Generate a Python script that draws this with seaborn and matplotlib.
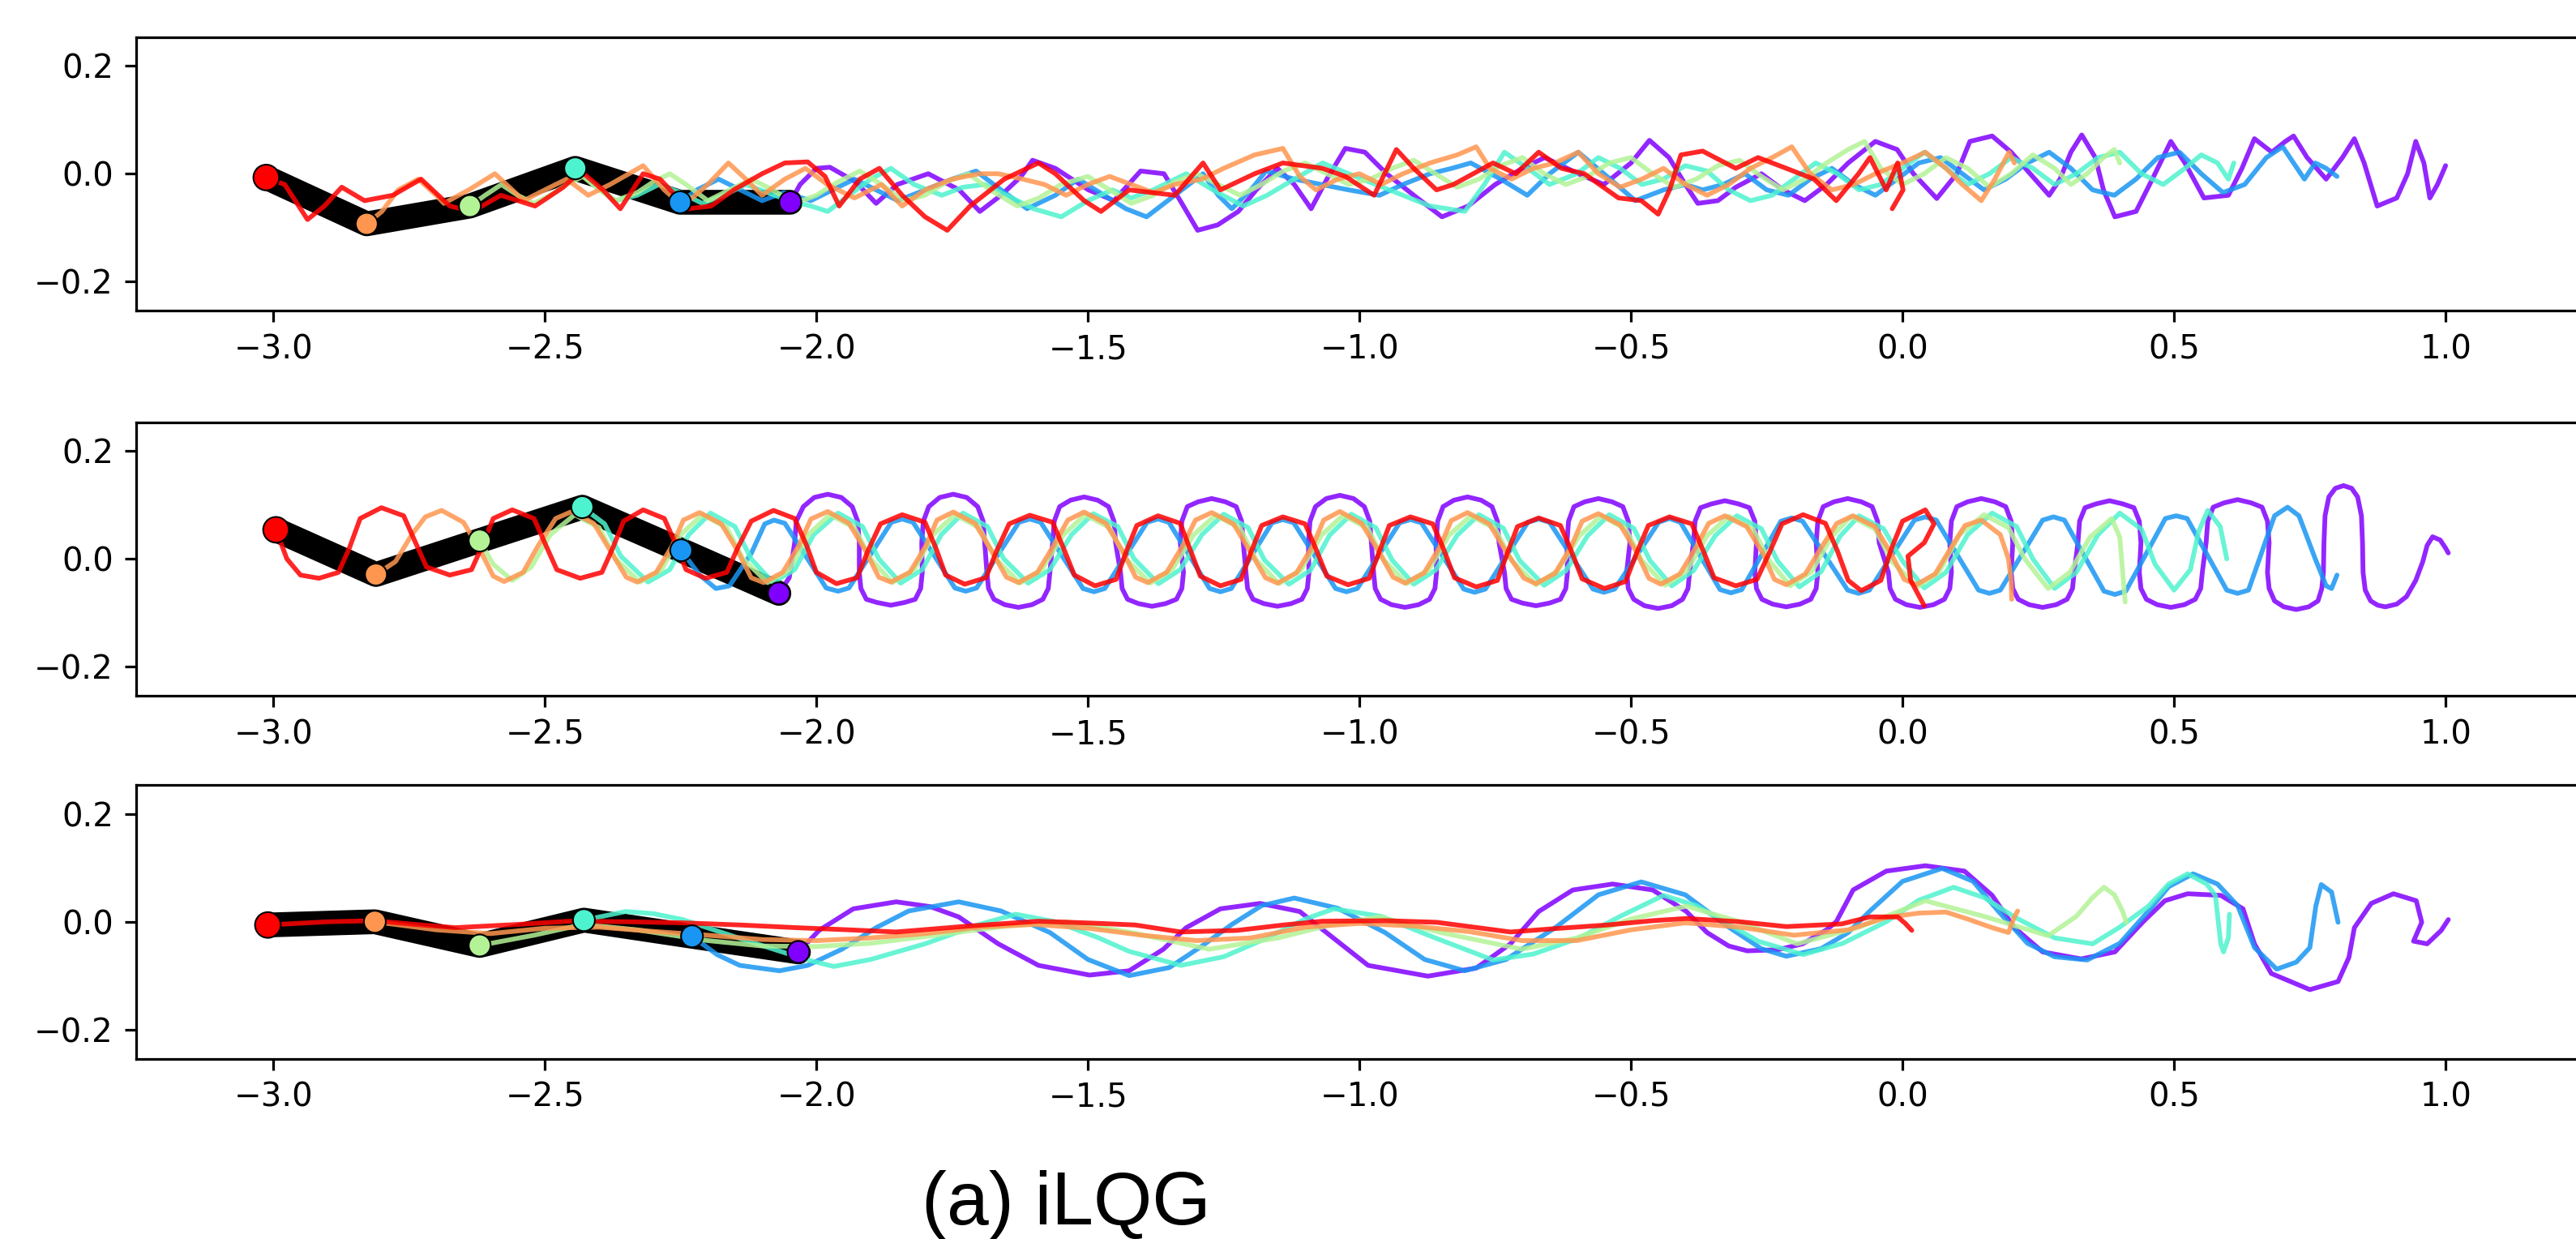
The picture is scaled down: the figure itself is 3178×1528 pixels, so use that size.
import numpy as np
import pandas as pd
import matplotlib
matplotlib.use("Agg")
import matplotlib.pyplot as plt
import seaborn as sns

# ---------------- data ----------------
joint_names = ["j0", "j1", "j2", "j3", "j4", "j5"]   # purple ... red
x_ticks = [-3.0, -2.5, -2.0, -1.5, -1.0, -0.5, 0.0, 0.5, 1.0]
y_ticks = [-0.2, 0.0, 0.2]
caption = "(a) iLQG"

# initial body (joint positions, red head first -> purple tail)
p1_body = [(-3.013, -0.007), (-2.828, -0.093), (-2.638, -0.060), (-2.444, 0.010), (-2.251, -0.053), (-2.048, -0.053)]
p2_body = [(-2.995, 0.054), (-2.811, -0.029), (-2.620, 0.034), (-2.431, 0.096), (-2.249, 0.016), (-2.069, -0.064)]
p3_body = [(-3.010, -0.006), (-2.813, 0.000), (-2.620, -0.044), (-2.428, 0.003), (-2.229, -0.027), (-2.033, -0.056)]

# ---- panel 1 trajectories ----
p1_j5 = [(-3.012,-0.008),(-2.979,-0.020),(-2.937,-0.085),(-2.906,-0.060),(-2.874,-0.025),(-2.832,-0.050),(-2.780,-0.040),
         (-2.728,-0.010),(-2.675,-0.060),(-2.633,-0.070),(-2.581,-0.040),(-2.518,-0.060),(-2.466,-0.025),(-2.434,0.005),
         (-2.393,-0.030),(-2.361,-0.065),(-2.319,0.000),(-2.288,-0.010),(-2.236,-0.065),(-2.194,-0.060),(-2.152,-0.030),
         (-2.100,0.000),(-2.058,0.020),(-2.016,0.022),(-1.984,-0.005),(-1.958,-0.060),(-1.920,-0.010),(-1.884,0.010),
         (-1.842,-0.040),(-1.800,-0.080),(-1.759,-0.105),(-1.717,-0.060),(-1.654,-0.010),(-1.591,0.020),(-1.560,0.000),
         (-1.507,-0.050),(-1.476,-0.070),(-1.424,-0.030),(-1.382,-0.035),(-1.340,-0.040),(-1.288,0.020),(-1.256,-0.030),
         (-1.193,0.000),(-1.141,0.020),(-1.068,0.010),(-1.026,-0.005),(-0.973,-0.040),(-0.932,0.045),(-0.900,0.010),
         (-0.858,-0.030),(-0.827,-0.020),(-0.754,0.020),(-0.712,0.000),(-0.670,0.040),(-0.628,0.010),(-0.586,0.000),
         (-0.523,-0.045),(-0.481,-0.050),(-0.450,-0.075),(-0.429,-0.030),(-0.408,0.035),(-0.368,0.042),(-0.307,0.010),
         (-0.266,0.030),(-0.214,0.010),(-0.163,-0.010),(-0.122,-0.050),(-0.081,0.000),(-0.060,0.030),(-0.030,-0.030),
         (-0.009,0.020),(0.001,-0.030),(-0.019,-0.065)]
p1_j4 = [(-2.828,-0.093),(-2.800,-0.070),(-2.770,-0.030),(-2.733,-0.010),(-2.700,-0.040),(-2.686,-0.055),(-2.640,-0.030),
         (-2.592,0.000),(-2.560,-0.030),(-2.539,-0.050),(-2.500,-0.030),(-2.460,-0.010),(-2.420,-0.040),(-2.380,-0.020),
         (-2.345,0.000),(-2.319,0.015),(-2.280,-0.030),(-2.246,-0.060),(-2.200,-0.020),(-2.162,0.020),(-2.130,-0.010),
         (-2.100,-0.040),(-2.058,-0.010),(-2.020,0.010),(-1.980,-0.020),(-1.930,-0.045),(-1.880,-0.020),(-1.842,-0.060),
         (-1.800,-0.030),(-1.750,-0.010),(-1.700,0.000),(-1.665,0.000),(-1.620,-0.010),(-1.580,-0.020),(-1.540,-0.040),
         (-1.500,-0.020),(-1.460,-0.005),(-1.420,-0.020),(-1.380,-0.035),(-1.340,-0.020),(-1.290,-0.010),(-1.250,0.010),
         (-1.193,0.035),(-1.141,0.047),(-1.110,-0.005),(-1.080,-0.030),(-1.040,-0.010),(-1.000,0.000),(-0.960,-0.020),
         (-0.920,0.000),(-0.870,0.020),(-0.820,0.035),(-0.785,0.050),(-0.760,0.010),(-0.720,-0.010),(-0.680,0.010),
         (-0.640,0.020),(-0.597,0.040),(-0.560,0.000),(-0.520,-0.025),(-0.480,-0.010),(-0.440,0.010),(-0.400,-0.020),
         (-0.360,-0.040),(-0.320,-0.020),(-0.280,0.010),(-0.240,0.030),(-0.204,0.050),(-0.170,0.000),(-0.130,-0.030),
         (-0.090,-0.020),(-0.050,0.000),(0.000,0.020),(0.042,0.040),(0.080,0.010),(0.110,-0.020),(0.145,-0.050),
         (0.170,-0.010),(0.196,0.040),(0.206,0.020)]
p1_j3 = [(-2.638,-0.060),(-2.610,-0.040),(-2.580,-0.020),(-2.550,-0.040),(-2.520,-0.055),(-2.490,-0.040),(-2.460,-0.020),
         (-2.430,-0.005),(-2.400,-0.030),(-2.370,-0.050),(-2.330,-0.035),(-2.300,-0.015),(-2.270,0.000),(-2.240,-0.020),
         (-2.200,-0.050),(-2.160,-0.030),(-2.120,-0.010),(-2.080,-0.030),(-2.040,-0.055),(-2.000,-0.040),(-1.960,-0.015),
         (-1.920,0.005),(-1.880,-0.020),(-1.840,-0.050),(-1.800,-0.040),(-1.760,-0.015),(-1.720,0.000),(-1.680,-0.030),
         (-1.630,-0.060),(-1.590,-0.045),(-1.550,-0.020),(-1.500,-0.005),(-1.460,-0.030),(-1.420,-0.055),(-1.380,-0.040),
         (-1.340,-0.015),(-1.300,0.000),(-1.260,-0.020),(-1.220,-0.040),(-1.180,-0.020),(-1.140,0.005),(-1.100,0.020),
         (-1.060,0.000),(-1.020,-0.020),(-0.980,-0.010),(-0.940,0.010),(-0.900,0.025),(-0.860,0.000),(-0.820,-0.025),
         (-0.780,-0.010),(-0.740,0.015),(-0.700,0.030),(-0.660,0.000),(-0.620,-0.020),(-0.580,-0.005),(-0.540,0.020),
         (-0.500,0.030),(-0.460,0.000),(-0.420,-0.025),(-0.380,-0.010),(-0.340,0.015),(-0.300,0.025),(-0.260,-0.005),
         (-0.220,-0.030),(-0.180,-0.010),(-0.140,0.020),(-0.100,0.045),(-0.070,0.060),(-0.040,0.010),(0.000,-0.020),
         (0.040,0.000),(0.080,0.030),(0.120,0.010),(0.160,-0.025),(0.200,0.000),(0.240,0.035),(0.280,0.010),
         (0.310,-0.020),(0.340,0.000),(0.370,0.030),(0.390,0.045),(0.400,0.020)]
p1_j2 = [(-2.444,0.010),(-2.410,-0.020),(-2.370,-0.050),(-2.330,-0.040),(-2.290,-0.020),(-2.250,-0.035),(-2.210,-0.055),
         (-2.170,-0.040),(-2.130,-0.020),(-2.090,-0.035),(-2.050,-0.050),(-2.010,-0.060),(-1.979,-0.070),(-1.940,-0.040),
         (-1.900,-0.010),(-1.863,0.010),(-1.820,-0.020),(-1.769,-0.040),(-1.730,-0.025),(-1.690,-0.020),(-1.650,-0.040),
         (-1.600,-0.065),(-1.549,-0.080),(-1.500,-0.050),(-1.455,-0.030),(-1.420,-0.045),(-1.380,-0.030),(-1.319,0.000),
         (-1.270,-0.030),(-1.214,-0.060),(-1.170,-0.040),(-1.120,-0.010),(-1.068,0.020),(-1.020,0.000),(-0.970,-0.020),
         (-0.920,-0.040),(-0.870,-0.060),(-0.806,-0.070),(-0.770,-0.020),(-0.733,0.040),(-0.690,0.010),(-0.650,-0.020),
         (-0.600,0.000),(-0.560,0.030),(-0.520,0.010),(-0.480,-0.020),(-0.440,-0.010),(-0.400,0.015),(-0.360,0.005),
         (-0.320,-0.030),(-0.280,-0.050),(-0.240,-0.040),(-0.200,-0.010),(-0.160,0.020),(-0.120,0.000),(-0.080,-0.030),
         (-0.040,-0.020),(0.000,0.010),(0.040,0.040),(0.080,0.010),(0.120,-0.020),(0.160,0.000),(0.200,0.030),
         (0.240,0.010),(0.280,-0.020),(0.320,0.000),(0.360,0.030),(0.400,0.040),(0.440,0.000),(0.480,-0.020),
         (0.520,0.010),(0.550,0.035),(0.580,0.020),(0.600,-0.010),(0.610,0.020)]
p1_j1 = [(-2.251,-0.053),(-2.220,-0.030),(-2.180,-0.010),(-2.140,-0.030),(-2.100,-0.050),(-2.060,-0.035),(-2.010,-0.050),
         (-1.970,-0.030),(-1.930,-0.010),(-1.890,-0.030),(-1.850,-0.050),(-1.800,-0.030),(-1.750,-0.010),(-1.706,0.005),
         (-1.660,-0.030),(-1.612,-0.065),(-1.560,-0.040),(-1.518,-0.010),(-1.470,-0.040),(-1.430,-0.065),(-1.392,-0.080),
         (-1.340,-0.040),(-1.288,0.000),(-1.260,-0.040),(-1.235,-0.065),(-1.200,-0.030),(-1.172,0.005),(-1.120,-0.010),
         (-1.070,-0.020),(-1.020,-0.030),(-0.963,-0.040),(-0.920,-0.020),(-0.870,0.000),(-0.830,0.010),(-0.795,0.020),
         (-0.740,-0.010),(-0.691,-0.040),(-0.650,0.000),(-0.597,0.040),(-0.550,0.000),(-0.492,-0.050),(-0.440,-0.030),
         (-0.400,-0.020),(-0.368,-0.030),(-0.330,-0.020),(-0.290,0.000),(-0.250,-0.030),(-0.210,-0.040),(-0.170,-0.010),
         (-0.130,0.010),(-0.090,-0.020),(-0.050,-0.040),(-0.010,-0.010),(0.030,0.020),(0.070,0.030),(0.110,0.000),
         (0.150,-0.030),(0.190,-0.010),(0.230,0.020),(0.270,0.040),(0.310,0.010),(0.350,-0.030),(0.390,-0.040),
         (0.430,-0.010),(0.470,0.030),(0.510,0.040),(0.550,0.000),(0.590,-0.035),(0.630,-0.020),(0.670,0.030),
         (0.700,0.050),(0.720,0.020),(0.740,-0.010),(0.760,0.020),(0.780,0.010),(0.800,-0.005)]
p1_j0 = [(-2.048,-0.053),(-2.030,-0.020),(-2.000,0.010),(-1.975,0.012),(-1.928,-0.015),(-1.890,-0.055),(-1.851,-0.020),
         (-1.794,0.000),(-1.737,-0.030),(-1.699,-0.070),(-1.660,-0.040),(-1.623,-0.005),(-1.602,0.025),(-1.560,0.010),
         (-1.499,-0.030),(-1.452,-0.050),(-1.403,0.005),(-1.360,0.000),(-1.330,-0.050),(-1.298,-0.105),(-1.261,-0.095),
         (-1.223,-0.070),(-1.190,-0.030),(-1.151,0.010),(-1.120,-0.020),(-1.089,-0.065),(-1.060,-0.010),(-1.026,0.047),
         (-0.990,0.040),(-0.950,0.000),(-0.900,-0.040),(-0.848,-0.080),(-0.800,-0.060),(-0.750,-0.020),(-0.700,0.010),
         (-0.659,0.030),(-0.597,0.000),(-0.550,-0.020),(-0.500,0.020),(-0.466,0.062),(-0.430,0.030),(-0.400,-0.020),
         (-0.377,-0.055),(-0.340,-0.050),(-0.307,-0.025),(-0.260,0.000),(-0.220,-0.030),(-0.180,-0.050),(-0.140,-0.020),
         (-0.100,0.020),(-0.050,0.060),(-0.010,0.045),(0.020,0.000),(0.063,-0.046),(0.100,0.000),(0.124,0.060),
         (0.165,0.070),(0.200,0.040),(0.235,0.000),(0.270,-0.040),(0.290,-0.010),(0.310,0.040),(0.330,0.072),
         (0.355,0.030),(0.370,-0.030),(0.391,-0.080),(0.430,-0.070),(0.460,-0.010),(0.494,0.060),(0.520,0.020),
         (0.555,-0.045),(0.600,-0.040),(0.625,0.010),(0.648,0.065),(0.680,0.040),(0.705,0.060),(0.720,0.070),
         (0.745,0.030),(0.780,-0.010),(0.810,0.030),(0.832,0.065),(0.850,0.020),(0.874,-0.060),(0.910,-0.045),
         (0.930,0.000),(0.945,0.060),(0.960,0.020),(0.971,-0.045),(0.985,-0.020),(1.000,0.015)]

# ---- panel 2 trajectories ----
p2_j0 = [(-2.069,-0.064),(-2.050,-0.035),(-2.040,0.030),
         (-2.037,0.070),(-2.024,0.097),(-2.004,0.114),(-1.979,0.120),(-1.954,0.114),(-1.934,0.097),(-1.924,0.070),(-1.921,0.030),
         (-1.921,-0.025),(-1.918,-0.055),(-1.908,-0.075),(-1.888,-0.081),(-1.863,-0.086),(-1.838,-0.081),(-1.818,-0.075),(-1.808,-0.055),(-1.805,-0.025),
         (-1.806,0.030),(-1.803,0.070),(-1.793,0.097),(-1.773,0.114),(-1.748,0.120),(-1.723,0.114),(-1.703,0.097),(-1.693,0.070),(-1.690,0.030),
         (-1.686,-0.025),(-1.683,-0.055),(-1.673,-0.075),(-1.653,-0.085),(-1.628,-0.090),(-1.603,-0.085),(-1.583,-0.075),(-1.573,-0.055),(-1.570,-0.025),
         (-1.565,0.030),(-1.562,0.070),(-1.552,0.097),(-1.532,0.109),(-1.507,0.115),(-1.482,0.109),(-1.462,0.097),(-1.452,0.070),(-1.449,0.030),
         (-1.440,-0.025),(-1.437,-0.055),(-1.427,-0.075),(-1.407,-0.083),(-1.382,-0.088),(-1.357,-0.083),(-1.337,-0.075),(-1.327,-0.055),(-1.324,-0.025),
         (-1.330,0.030),(-1.327,0.070),(-1.317,0.097),(-1.297,0.106),(-1.272,0.112),(-1.247,0.106),(-1.227,0.097),(-1.217,0.070),(-1.214,0.030),
         (-1.209,-0.025),(-1.206,-0.055),(-1.196,-0.075),(-1.176,-0.083),(-1.151,-0.088),(-1.126,-0.083),(-1.106,-0.075),(-1.096,-0.055),(-1.093,-0.025),
         (-1.094,0.030),(-1.091,0.070),(-1.081,0.097),(-1.061,0.112),(-1.036,0.118),(-1.011,0.112),(-0.991,0.097),(-0.981,0.070),(-0.978,0.030),
         (-0.974,-0.025),(-0.971,-0.055),(-0.961,-0.075),(-0.941,-0.085),(-0.916,-0.090),(-0.891,-0.085),(-0.871,-0.075),(-0.861,-0.055),(-0.858,-0.025),
         (-0.859,0.030),(-0.856,0.070),(-0.846,0.097),(-0.826,0.109),(-0.801,0.115),(-0.776,0.109),(-0.756,0.097),(-0.746,0.070),(-0.743,0.030),
         (-0.733,-0.025),(-0.730,-0.055),(-0.720,-0.075),(-0.700,-0.082),(-0.675,-0.087),(-0.650,-0.082),(-0.630,-0.075),(-0.620,-0.055),(-0.617,-0.025),
         (-0.618,0.030),(-0.615,0.070),(-0.605,0.097),(-0.585,0.106),(-0.560,0.112),(-0.535,0.106),(-0.515,0.097),(-0.505,0.070),(-0.502,0.030),
         (-0.508,-0.025),(-0.505,-0.055),(-0.495,-0.075),(-0.475,-0.087),(-0.450,-0.092),(-0.425,-0.087),(-0.405,-0.075),(-0.395,-0.055),(-0.392,-0.025),
         (-0.385,0.030),(-0.382,0.070),(-0.372,0.095),(-0.352,0.102),(-0.327,0.108),(-0.302,0.102),(-0.282,0.095),(-0.272,0.070),(-0.269,0.030),
         (-0.272,-0.025),(-0.269,-0.055),(-0.259,-0.075),(-0.239,-0.084),(-0.214,-0.089),(-0.189,-0.084),(-0.169,-0.075),(-0.159,-0.055),(-0.156,-0.025),
         (-0.159,0.030),(-0.156,0.070),(-0.146,0.097),(-0.126,0.106),(-0.101,0.112),(-0.076,0.106),(-0.056,0.097),(-0.046,0.070),(-0.043,0.030),
         (-0.026,-0.025),(-0.023,-0.055),(-0.013,-0.075),(0.007,-0.085),(0.032,-0.090),(0.057,-0.085),(0.077,-0.075),(0.087,-0.055),(0.090,-0.025),
         (0.087,0.030),(0.090,0.070),(0.100,0.097),(0.120,0.106),(0.145,0.112),(0.170,0.106),(0.190,0.097),(0.200,0.070),(0.203,0.030),
         (0.200,-0.025),(0.203,-0.055),(0.213,-0.075),(0.233,-0.085),(0.258,-0.090),(0.283,-0.085),(0.303,-0.075),(0.313,-0.055),(0.316,-0.025),
         (0.323,0.030),(0.326,0.070),(0.336,0.095),(0.356,0.102),(0.381,0.108),(0.406,0.102),(0.426,0.095),(0.436,0.070),(0.439,0.030),
         (0.436,-0.025),(0.439,-0.055),(0.449,-0.075),(0.469,-0.085),(0.494,-0.090),(0.519,-0.085),(0.539,-0.075),(0.549,-0.055),(0.552,-0.025),
         (0.559,0.030),(0.562,0.070),(0.572,0.096),(0.592,0.104),(0.617,0.110),(0.642,0.104),(0.662,0.096),(0.672,0.070),(0.675,0.030),
         (0.672,-0.025),(0.675,-0.055),(0.685,-0.078),(0.702,-0.089),(0.725,-0.094),(0.748,-0.089),(0.765,-0.078),(0.772,-0.055),(0.775,-0.025),
         (0.776,0.030),(0.778,0.080),(0.785,0.115),(0.797,0.131),(0.812,0.136),(0.827,0.131),(0.838,0.115),(0.845,0.080),(0.847,0.030),
         (0.848,-0.025),(0.852,-0.058),(0.862,-0.078),(0.875,-0.086),(0.889,-0.089),(0.910,-0.084),(0.928,-0.070),(0.945,-0.040),
         (0.958,-0.005),(0.966,0.025),(0.976,0.041),(0.990,0.035),(1.000,0.020),(1.005,0.011)]
p2_j1 = [(-2.249,0.016),(-2.215,-0.030),(-2.185,-0.055),(-2.160,-0.050),(-2.120,0.010),(-2.095,0.065),(-2.078,0.072),
         (-2.058,0.066),(-1.982,-0.054),(-1.960,-0.060),(-1.940,-0.054),(-1.862,0.068),(-1.842,0.074),(-1.822,0.068),
         (-1.745,-0.054),(-1.725,-0.060),(-1.705,-0.054),(-1.627,0.068),(-1.607,0.074),(-1.587,0.068),(-1.509,-0.055),
         (-1.489,-0.061),(-1.469,-0.055),(-1.391,0.068),(-1.371,0.074),(-1.351,0.068),(-1.276,-0.055),(-1.256,-0.061),
         (-1.236,-0.055),(-1.161,0.067),(-1.141,0.073),(-1.121,0.067),(-1.044,-0.055),(-1.024,-0.061),(-1.004,-0.055),
         (-0.926,0.067),(-0.906,0.073),(-0.886,0.067),(-0.808,-0.056),(-0.788,-0.062),(-0.768,-0.056),(-0.690,0.068),
         (-0.670,0.074),(-0.650,0.068),(-0.570,-0.056),(-0.550,-0.062),(-0.530,-0.056),(-0.449,0.068),(-0.429,0.075),
         (-0.409,0.068),(-0.336,-0.057),(-0.316,-0.063),(-0.296,-0.057),(-0.224,0.070),(-0.204,0.076),(-0.184,0.070),
         (-0.101,-0.058),(-0.081,-0.064),(-0.061,-0.058),(0.022,0.072),(0.042,0.078),(0.062,0.072),(0.140,-0.058),
         (0.160,-0.064),(0.180,-0.058),(0.258,0.072),(0.278,0.078),(0.298,0.072),(0.371,-0.060),(0.391,-0.066),
         (0.411,-0.060),(0.484,0.075),(0.504,0.080),(0.524,0.075),(0.597,-0.058),(0.617,-0.064),(0.637,-0.058),
         (0.685,0.080),(0.709,0.096),(0.730,0.080),(0.760,0.000),(0.780,-0.050),(0.790,-0.055),(0.800,-0.030)]
p2_j2 = [(-2.431,0.096),(-2.390,0.065),(-2.360,0.005),(-2.310,-0.043),(-2.270,-0.020),(-2.235,0.045),(-2.195,0.085),
         (-2.150,0.060),(-2.120,0.000),(-2.080,-0.044),(-2.040,-0.020),(-2.005,0.045),(-1.960,0.085),(-1.915,0.060),
         (-1.885,0.000),(-1.845,-0.045),(-1.805,-0.020),(-1.770,0.045),(-1.730,0.085),(-1.685,0.060),(-1.655,0.000),
         (-1.610,-0.045),(-1.570,-0.020),(-1.530,0.045),(-1.490,0.084),(-1.445,0.060),(-1.415,0.000),(-1.370,-0.046),
         (-1.330,-0.020),(-1.290,0.045),(-1.250,0.083),(-1.205,0.058),(-1.175,-0.002),(-1.130,-0.047),(-1.090,-0.021),
         (-1.055,0.044),(-1.015,0.083),(-0.970,0.058),(-0.940,-0.002),(-0.900,-0.047),(-0.860,-0.021),(-0.820,0.044),
         (-0.780,0.082),(-0.735,0.057),(-0.705,-0.003),(-0.660,-0.049),(-0.620,-0.022),(-0.580,0.043),(-0.540,0.082),
         (-0.495,0.057),(-0.465,-0.003),(-0.425,-0.050),(-0.385,-0.022),(-0.345,0.043),(-0.305,0.080),(-0.260,0.056),
         (-0.230,-0.004),(-0.190,-0.052),(-0.150,-0.024),(-0.115,0.042),(-0.080,0.080),(-0.035,0.056),(0.000,-0.004),
         (0.040,-0.054),(0.080,-0.025),(0.120,0.045),(0.165,0.085),(0.210,0.060),(0.240,0.000),(0.280,-0.055),
         (0.320,-0.025),(0.360,0.045),(0.400,0.085),(0.440,0.055),(0.465,-0.010),(0.500,-0.058),(0.530,-0.020),
         (0.545,0.050),(0.562,0.090),(0.585,0.060),(0.597,0.000)]
p2_j3 = [(-2.620,0.034),(-2.595,-0.010),(-2.560,-0.040),(-2.525,-0.015),(-2.490,0.045),(-2.445,0.082),(-2.400,0.058),
         (-2.370,0.000),(-2.325,-0.043),(-2.285,-0.020),(-2.250,0.045),(-2.210,0.082),(-2.165,0.058),(-2.135,0.000),
         (-2.090,-0.044),(-2.050,-0.020),(-2.015,0.045),(-1.975,0.082),(-1.930,0.058),(-1.900,0.000),(-1.860,-0.044),
         (-1.820,-0.020),(-1.785,0.045),(-1.745,0.082),(-1.700,0.058),(-1.670,0.000),(-1.625,-0.045),(-1.585,-0.020),
         (-1.545,0.045),(-1.505,0.082),(-1.460,0.058),(-1.430,0.000),(-1.385,-0.045),(-1.345,-0.020),(-1.305,0.045),
         (-1.265,0.081),(-1.220,0.057),(-1.190,-0.002),(-1.148,-0.046),(-1.108,-0.021),(-1.070,0.044),(-1.030,0.081),
         (-0.985,0.057),(-0.955,-0.002),(-0.913,-0.046),(-0.873,-0.021),(-0.835,0.044),(-0.795,0.080),(-0.750,0.056),
         (-0.720,-0.003),(-0.675,-0.048),(-0.635,-0.022),(-0.595,0.043),(-0.555,0.080),(-0.510,0.056),(-0.480,-0.003),
         (-0.437,-0.049),(-0.397,-0.022),(-0.360,0.043),(-0.320,0.079),(-0.275,0.055),(-0.245,-0.004),(-0.207,-0.050),
         (-0.167,-0.023),(-0.130,0.042),(-0.095,0.079),(-0.050,0.055),(-0.020,-0.004),(0.027,-0.052),(0.067,-0.024),
         (0.105,0.045),(0.150,0.082),(0.195,0.058),(0.225,0.000),(0.268,-0.055),(0.308,-0.025),(0.345,0.040),
         (0.385,0.075),(0.400,0.040),(0.405,-0.020),(0.410,-0.080)]
p2_j4 = [(-2.811,-0.029),(-2.775,-0.005),(-2.745,0.045),(-2.720,0.078),(-2.690,0.090),(-2.650,0.068),(-2.620,0.018),
         (-2.595,-0.032),(-2.575,-0.042),(-2.540,-0.025),(-2.512,0.025),(-2.480,0.075),(-2.450,0.088),(-2.410,0.066),
         (-2.380,0.016),(-2.350,-0.034),(-2.330,-0.043),(-2.295,-0.025),(-2.265,0.025),(-2.245,0.072),(-2.215,0.086),
         (-2.175,0.065),(-2.145,0.015),(-2.120,-0.035),(-2.097,-0.044),(-2.062,-0.025),(-2.032,0.025),(-2.010,0.074),
         (-1.979,0.088),(-1.940,0.066),(-1.910,0.016),(-1.885,-0.034),(-1.863,-0.043),(-1.828,-0.025),(-1.798,0.025),
         (-1.778,0.072),(-1.748,0.087),(-1.708,0.066),(-1.678,0.016),(-1.650,-0.034),(-1.628,-0.044),(-1.593,-0.025),
         (-1.563,0.025),(-1.537,0.072),(-1.507,0.087),(-1.467,0.066),(-1.437,0.016),(-1.412,-0.034),(-1.390,-0.044),
         (-1.355,-0.025),(-1.325,0.025),(-1.302,0.072),(-1.272,0.086),(-1.232,0.065),(-1.202,0.015),(-1.173,-0.035),
         (-1.151,-0.045),(-1.116,-0.026),(-1.086,0.024),(-1.066,0.072),(-1.036,0.088),(-0.996,0.066),(-0.966,0.016),
         (-0.938,-0.034),(-0.916,-0.045),(-0.881,-0.026),(-0.851,0.024),(-0.831,0.071),(-0.801,0.086),(-0.761,0.065),
         (-0.731,0.015),(-0.697,-0.036),(-0.675,-0.046),(-0.640,-0.027),(-0.610,0.023),(-0.590,0.070),(-0.560,0.084),
         (-0.520,0.063),(-0.490,0.013),(-0.467,-0.036),(-0.445,-0.047),(-0.410,-0.028),(-0.380,0.022),(-0.357,0.066),
         (-0.327,0.080),(-0.287,0.060),(-0.257,0.010),(-0.236,-0.038),(-0.214,-0.048),(-0.179,-0.028),(-0.149,0.022),
         (-0.121,0.066),(-0.091,0.080),(-0.051,0.060),(-0.021,0.010),(0.003,-0.038),(0.025,-0.048),(0.060,-0.028),
         (0.090,0.022),(0.115,0.062),(0.145,0.072),(0.180,0.045),(0.195,0.000),(0.200,-0.040),(0.201,-0.075)]
p2_j5 = [(-2.995,0.054),(-2.975,0.000),(-2.950,-0.030),(-2.916,-0.036),(-2.880,-0.025),(-2.860,0.020),(-2.840,0.075),
         (-2.801,0.095),(-2.760,0.080),(-2.738,0.030),(-2.718,-0.015),(-2.675,-0.030),(-2.635,-0.020),(-2.615,0.025),
         (-2.595,0.075),(-2.560,0.091),(-2.520,0.075),(-2.498,0.025),(-2.478,-0.020),(-2.435,-0.036),(-2.395,-0.025),
         (-2.375,0.020),(-2.355,0.070),(-2.319,0.091),(-2.280,0.075),(-2.258,0.025),(-2.240,-0.020),(-2.204,-0.036),
         (-2.165,-0.025),(-2.145,0.020),(-2.120,0.070),(-2.079,0.090),(-2.040,0.075),(-2.018,0.025),(-2.000,-0.025),
         (-1.963,-0.046),(-1.925,-0.035),(-1.905,0.015),(-1.882,0.065),(-1.842,0.082),(-1.800,0.068),(-1.780,0.020),
         (-1.762,-0.030),(-1.727,-0.047),(-1.688,-0.035),(-1.668,0.015),(-1.645,0.065),(-1.607,0.081),(-1.565,0.068),
         (-1.545,0.020),(-1.525,-0.030),(-1.487,-0.050),(-1.448,-0.038),(-1.430,0.012),(-1.410,0.062),(-1.371,0.080),
         (-1.330,0.066),(-1.312,0.018),(-1.293,-0.032),(-1.256,-0.050),(-1.218,-0.038),(-1.200,0.012),(-1.180,0.062),
         (-1.141,0.078),(-1.100,0.065),(-1.080,0.018),(-1.060,-0.032),(-1.021,-0.048),(-0.982,-0.036),(-0.964,0.012),
         (-0.945,0.062),(-0.906,0.078),(-0.865,0.065),(-0.845,0.018),(-0.825,-0.035),(-0.785,-0.052),(-0.746,-0.040),
         (-0.728,0.010),(-0.709,0.060),(-0.670,0.076),(-0.630,0.062),(-0.610,0.015),(-0.590,-0.037),(-0.549,-0.055),
         (-0.510,-0.042),(-0.490,0.010),(-0.468,0.062),(-0.429,0.078),(-0.388,0.065),(-0.367,0.015),(-0.347,-0.035),
         (-0.307,-0.050),(-0.268,-0.038),(-0.245,0.012),(-0.222,0.065),(-0.183,0.082),(-0.142,0.066),(-0.120,0.015),
         (-0.100,-0.040),(-0.076,-0.059),(-0.040,-0.040),(-0.020,0.020),(0.000,0.070),(0.042,0.091),(0.058,0.065),
         (0.040,0.030),(0.010,0.005),(0.015,-0.040),(0.040,-0.087)]

# ---- panel 3 trajectories ----
p3_j0 = [(-2.033,-0.056),(-1.995,-0.016),(-1.932,0.024),(-1.853,0.037),(-1.790,0.028),(-1.738,0.009),(-1.665,-0.041),
         (-1.591,-0.081),(-1.497,-0.099),(-1.424,-0.091),(-1.361,-0.051),(-1.319,-0.011),(-1.256,0.024),(-1.183,0.034),
         (-1.110,0.019),(-1.047,-0.031),(-0.984,-0.081),(-0.874,-0.101),(-0.785,-0.086),(-0.722,-0.041),(-0.670,0.019),
         (-0.607,0.059),(-0.534,0.070),(-0.460,0.059),(-0.398,0.019),(-0.360,-0.020),(-0.320,-0.045),(-0.286,-0.054),
         (-0.230,-0.052),(-0.184,-0.041),(-0.140,-0.015),(-0.122,0.000),(-0.091,0.059),(-0.030,0.094),(0.042,0.104),
         (0.114,0.094),(0.165,0.049),(0.206,-0.011),(0.258,-0.056),(0.329,-0.069),(0.391,-0.056),(0.443,0.000),
         (0.483,0.039),(0.525,0.052),(0.586,0.049),(0.627,0.024),(0.648,-0.041),(0.679,-0.096),(0.750,-0.126),
         (0.802,-0.111),(0.822,-0.066),(0.832,-0.011),(0.863,0.034),(0.904,0.052),(0.946,0.039),(0.956,-0.001),
         (0.941,-0.036),(0.966,-0.041),(0.992,-0.016),(1.005,0.004)]
p3_j1 = [(-2.229,-0.027),(-2.183,-0.061),(-2.141,-0.081),(-2.068,-0.091),(-2.016,-0.081),(-1.953,-0.051),(-1.890,-0.011),
         (-1.830,0.020),(-1.738,0.037),(-1.660,0.020),(-1.570,-0.020),(-1.500,-0.070),(-1.424,-0.100),(-1.350,-0.085),
         (-1.290,-0.045),(-1.235,-0.005),(-1.180,0.030),(-1.120,0.044),(-1.040,0.025),(-0.953,-0.020),(-0.880,-0.070),
         (-0.806,-0.091),(-0.730,-0.070),(-0.638,-0.010),(-0.560,0.050),(-0.481,0.074),(-0.400,0.050),(-0.320,-0.010),
         (-0.260,-0.050),(-0.214,-0.064),(-0.150,-0.050),(-0.100,-0.020),(-0.060,0.020),(0.000,0.075),(0.073,0.099),
         (0.130,0.075),(0.176,0.020),(0.230,-0.040),(0.280,-0.065),(0.340,-0.071),(0.400,-0.040),(0.453,0.020),
         (0.490,0.065),(0.535,0.089),(0.580,0.070),(0.617,0.030),(0.648,-0.048),(0.689,-0.088),(0.725,-0.075),
         (0.750,-0.048),(0.761,0.029),(0.771,0.069),(0.790,0.055),(0.802,-0.001)]
p3_j2 = [(-2.428,0.003),(-2.351,0.019),(-2.300,0.015),(-2.246,0.004),(-2.141,-0.031),(-2.016,-0.071),(-1.968,-0.083),
         (-1.900,-0.070),(-1.800,-0.041),(-1.700,-0.005),(-1.633,0.014),(-1.560,0.000),(-1.480,-0.030),(-1.424,-0.055),
         (-1.329,-0.081),(-1.250,-0.065),(-1.172,-0.031),(-1.100,0.005),(-1.047,0.024),(-0.960,0.010),(-0.858,-0.031),
         (-0.754,-0.071),(-0.680,-0.060),(-0.597,-0.031),(-0.520,0.010),(-0.440,0.049),(-0.380,0.030),(-0.320,-0.005),
         (-0.266,-0.036),(-0.183,-0.061),(-0.110,-0.040),(-0.030,0.000),(0.030,0.040),(0.094,0.064),(0.150,0.045),
         (0.206,0.009),(0.280,-0.030),(0.350,-0.041),(0.400,-0.010),(0.453,0.029),(0.490,0.070),(0.525,0.089),
         (0.560,0.070),(0.576,0.049),(0.586,-0.041),(0.591,-0.056),(0.600,-0.030),(0.602,0.014)]
p3_j3 = [(-2.620,-0.044),(-2.520,-0.025),(-2.430,-0.005),(-2.330,-0.015),(-2.200,-0.035),(-2.100,-0.045),(-2.000,-0.046),
         (-1.900,-0.040),(-1.780,-0.025),(-1.650,-0.008),(-1.539,0.000),(-1.420,-0.020),(-1.277,-0.051),(-1.150,-0.030),
         (-1.050,-0.005),(-0.963,0.009),(-0.850,-0.020),(-0.701,-0.051),(-0.600,-0.030),(-0.500,0.005),(-0.398,0.029),
         (-0.300,0.000),(-0.194,-0.041),(-0.080,-0.010),(0.042,0.039),(0.150,0.010),(0.268,-0.026),(0.320,0.010),
         (0.350,0.045),(0.371,0.064),(0.390,0.050),(0.405,0.020),(0.412,-0.001)]
p3_j4 = [(-2.813,0.000),(-2.700,-0.015),(-2.600,-0.022),(-2.500,-0.012),(-2.400,-0.010),(-2.300,-0.018),(-2.200,-0.025),
         (-2.100,-0.033),(-2.000,-0.035),(-1.900,-0.030),(-1.800,-0.022),(-1.700,-0.010),(-1.600,-0.005),(-1.500,-0.012),
         (-1.400,-0.025),(-1.300,-0.035),(-1.200,-0.030),(-1.100,-0.010),(-1.000,-0.003),(-0.900,-0.008),(-0.800,-0.018),
         (-0.700,-0.035),(-0.600,-0.035),(-0.500,-0.015),(-0.400,-0.002),(-0.300,-0.010),(-0.200,-0.025),(-0.100,-0.015),
         (-0.030,0.008),(0.030,0.016),(0.080,0.018),(0.120,0.005),(0.165,-0.011),(0.195,-0.020),(0.206,0.009),
         (0.212,0.020)]
p3_j5 = [(-3.010,-0.006),(-2.900,0.000),(-2.813,0.002),(-2.750,-0.004),(-2.665,-0.011),(-2.550,-0.005),(-2.455,0.001),
         (-2.350,0.000),(-2.246,-0.002),(-2.140,-0.006),(-2.037,-0.011),(-1.940,-0.015),(-1.853,-0.019),(-1.720,-0.008),
         (-1.591,0.001),(-1.480,-0.003),(-1.413,-0.006),(-1.329,-0.019),(-1.225,-0.016),(-1.140,-0.006),(-1.068,0.001),
         (-0.950,0.002),(-0.858,-0.001),(-0.790,-0.010),(-0.722,-0.019),(-0.630,-0.012),(-0.544,-0.006),(-0.460,0.002),
         (-0.398,0.006),(-0.300,0.000),(-0.214,-0.009),(-0.112,-0.004),(-0.060,0.009),(-0.009,0.009),(0.005,-0.003),
         (0.017,-0.016)]

panels = [
    (p1_body, [p1_j0, p1_j1, p1_j2, p1_j3, p1_j4, p1_j5]),
    (p2_body, [p2_j0, p2_j1, p2_j2, p2_j3, p2_j4, p2_j5]),
    (p3_body, [p3_j0, p3_j1, p3_j2, p3_j3, p3_j4, p3_j5]),
]

# ---------------- style ----------------
sns.set_style("ticks")
S = 2.9
plt.rcParams.update({
    "font.family": ["DejaVu Sans"],
    "text.color": "black",
    "axes.linewidth": 0.8 * S,
    "axes.edgecolor": "black",
    "xtick.color": "black", "ytick.color": "black",
    "xtick.labelcolor": "black", "ytick.labelcolor": "black",
    "xtick.major.width": 0.8 * S, "ytick.major.width": 0.8 * S,
    "xtick.major.size": 3.5 * S, "ytick.major.size": 3.5 * S,
    "xtick.major.pad": 3.5 * S, "ytick.major.pad": 3.5 * S,
    "xtick.labelsize": 10 * S, "ytick.labelsize": 10 * S,
    "xtick.direction": "out", "ytick.direction": "out",
})

cmap = plt.get_cmap("rainbow")
colors = [cmap(v) for v in np.linspace(0, 1, 6)]
palette = dict(zip(joint_names, colors))
marker_sizes = {"j0": 380, "j1": 380, "j2": 380, "j3": 380, "j4": 380, "j5": 520}

W, H = 3178, 1528
fig = plt.figure(figsize=(W / 100, H / 100), dpi=100)
ax_left = 168 / W
ax_width = (3191 - 168) / W
tops = [45.5, 520.5, 968.0]
ax_h = 337.5

for (body, trajs), top in zip(panels, tops):
    ax = fig.add_axes([ax_left, 1 - (top + ax_h) / H, ax_width, ax_h / H])
    bdf = pd.DataFrame(body, columns=["x", "y"])
    bdf["joint"] = joint_names[::-1]
    sns.lineplot(data=bdf, x="x", y="y", sort=False, estimator=None, color="black",
                 lw=22, ax=ax, zorder=2, legend=False)
    for j, tr in enumerate(trajs):
        tdf = pd.DataFrame(tr, columns=["x", "y"])
        sns.lineplot(data=tdf, x="x", y="y", sort=False, estimator=None,
                     color=colors[j], lw=4.2, alpha=0.85, ax=ax, zorder=3 + j * 0.01)
    sns.scatterplot(data=bdf, x="x", y="y", hue="joint", palette=palette,
                    size="joint", sizes=marker_sizes,
                    edgecolor="black", linewidth=1.5, ax=ax, zorder=4, legend=False)
    ax.set_xlim(-3.2525, 1.2595)
    ax.set_ylim(-0.254, 0.254)
    ax.set_xticks(x_ticks)
    ax.set_yticks(y_ticks)
    ax.set_xlabel("")
    ax.set_ylabel("")

fig.text(1315 / W, 18 / H, caption, family=["Liberation Sans", "DejaVu Sans"],
         fontsize=67, color="black", ha="center", va="baseline")

fig.savefig("out.png", dpi=100)
